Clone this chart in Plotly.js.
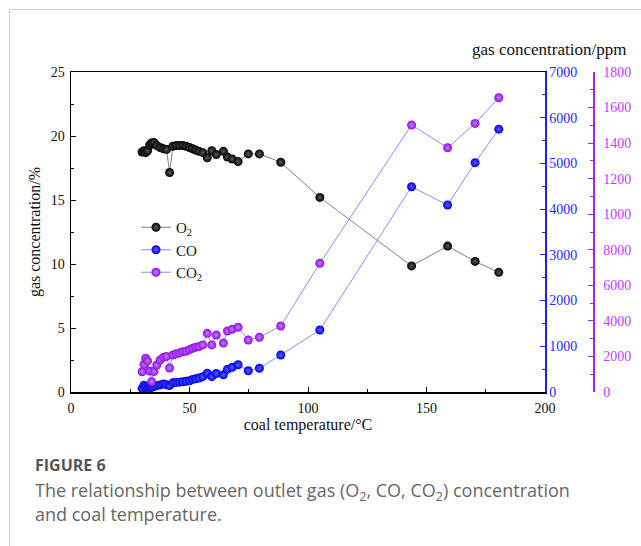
<!DOCTYPE html>
<html>
<head>
<meta charset="utf-8">
<script src="https://cdn.plot.ly/plotly-3.0.1.min.js"></script>
<style>
  html, body { margin: 0; padding: 0; background: #fff; }
  #chart { width: 641px; height: 546px; }
  /* tick numbers in the same serif face as the axis titles */
  #chart .xtick text, #chart .ytick text, #chart .y2tick text, #chart .y3tick text {
    font-family: 'Liberation Serif', 'Times New Roman', serif !important;
  }
</style>
</head>
<body>
<div id="chart"></div>
<script>
// Coal temperature (°C) at each sampling step
const temperature = [30.0, 30.8, 31.5, 32.3, 33.2, 34.0, 35.0, 36.2, 37.6, 39.0, 40.3, 41.6,
  43.0, 44.4, 45.8, 47.2, 48.6, 50.0, 51.3, 52.6, 54.0, 55.6, 57.5, 59.4, 61.3, 64.3,
  66.0, 68.0, 70.5, 74.8, 79.5, 88.5, 105.0, 143.7, 158.9, 170.5, 180.5];

// O2 concentration (%)
const o2 = [18.75, 18.85, 18.7, 18.85, 19.3, 19.45, 19.5, 19.25, 19.1, 19.0, 18.95, 17.15,
  19.2, 19.25, 19.25, 19.25, 19.2, 19.1, 19.0, 18.9, 18.8, 18.7, 18.3, 18.85, 18.55, 18.8,
  18.35, 18.2, 18.0, 18.6, 18.6, 17.95, 15.2, 9.85, 11.4, 10.2, 9.35];

// CO concentration (ppm)
const co = [80, 150, 100, 80, 90, 100, 120, 140, 155, 175, 160, 140,
  200, 210, 215, 225, 235, 245, 275, 290, 305, 335, 410, 335, 405, 375,
  495, 540, 595, 465, 520, 810, 1356, 4490, 4090, 5015, 5750];

// CO2 concentration (ppm)
const co2 = [1140, 1550, 1900, 1750, 1180, 580, 1150, 1520, 1800, 1950, 2000, 1350,
  2080, 2150, 2200, 2270, 2290, 2380, 2460, 2520, 2560, 2650, 3300, 2650, 3200, 2750,
  3430, 3530, 3640, 2925, 3080, 3712, 7240, 15020, 13740, 15110, 16550];

// Tick labels of the CO2 axis, as printed
const co2TickVals = [0, 2000, 4000, 6000, 8000, 10000, 12000, 14000, 16000, 18000];
const co2TickText = ['0', '2000', '4000', '6000', '8000', '1000', '1200', '1400', '1600', '1800'];

const SERIF = 'Liberation Serif';
const SANS = 'Open Sans';
const BLUE = '#1f1fff';
const PURPLE = '#a526ee';

function markerStyle(color, centre) {
  return { size: 9, color: color, gradient: { type: 'radial', color: centre },
           line: { width: 0 } };
}

const traces = [
  {
    x: temperature, y: o2, name: 'O<sub>2</sub>', type: 'scatter', mode: 'lines+markers',
    yaxis: 'y', line: { color: '#808080', width: 1 },
    marker: markerStyle('#000000', '#5a5a5a')
  },
  {
    x: temperature, y: co, name: 'CO', type: 'scatter', mode: 'lines+markers',
    yaxis: 'y2', line: { color: '#8c8cff', width: 1 },
    marker: markerStyle('#0000e6', '#5c5cff')
  },
  {
    x: temperature, y: co2, name: 'CO<sub>2</sub>', type: 'scatter', mode: 'lines+markers',
    yaxis: 'y3', line: { color: '#8c8cff', width: 1 },
    marker: markerStyle('#8f0fe0', '#c97bff')
  }
];

// Paper-coordinate helpers (plot area spans 71..631 px wide, 72..392 px tall)
const L = 71, T = 72, PW = 560, PH = 320;
const px = v => (v - L) / PW;
const py = v => (T + PH - v) / PH;

const tickFont = color => ({ family: SERIF, size: 14, color: color });

const layout = {
  width: 641, height: 546,
  margin: { l: L, r: 641 - L - PW, t: T, b: 546 - T - PH, pad: 0 },
  paper_bgcolor: '#fff', plot_bgcolor: '#fff',
  showlegend: true,
  legend: {
    x: px(136), y: py(211), xanchor: 'left', yanchor: 'top',
    bgcolor: 'rgba(0,0,0,0)', font: { family: SERIF, size: 15, color: '#111' },
    tracegroupgap: 0, itemwidth: 30
  },
  font: { family: SERIF, size: 14, color: '#111' },
  xaxis: {
    domain: [0, px(545)], range: [0, 200],
    tickvals: [0, 50, 100, 150, 200], ticks: 'inside', ticklen: 5, tickcolor: '#000',
    minor: { dtick: 25, ticks: 'inside', ticklen: 3, tickcolor: '#000' },
    showline: true, linecolor: '#000', linewidth: 1.5, mirror: true,
    showgrid: false, zeroline: false, ticklabelstandoff: 3,
    tickfont: tickFont('#111'),
    title: { text: 'coal temperature/°C', font: { family: SERIF, size: 16, color: '#111' }, standoff: 2 }
  },
  yaxis: {
    range: [0, 25], tickvals: [0, 5, 10, 15, 20, 25],
    ticks: 'inside', ticklen: 5, tickcolor: '#000',
    minor: { dtick: 2.5, ticks: 'inside', ticklen: 3, tickcolor: '#000' },
    showline: true, linecolor: '#000', linewidth: 1.5,
    showgrid: false, zeroline: false, ticklabelstandoff: 2,
    tickfont: tickFont('#111'),
    title: { text: 'gas concentration/%', font: { family: SERIF, size: 16, color: '#111' }, standoff: 6 }
  },
  yaxis2: {
    overlaying: 'y', side: 'right', anchor: 'x',
    range: [0, 7000], tickvals: [0, 1000, 2000, 3000, 4000, 5000, 6000, 7000],
    ticks: 'inside', ticklen: 5, tickcolor: BLUE,
    minor: { dtick: 500, ticks: 'inside', ticklen: 3, tickcolor: BLUE },
    showline: true, linecolor: BLUE, linewidth: 1.5,
    showgrid: false, zeroline: false,
    tickfont: tickFont(BLUE)
  },
  yaxis3: {
    overlaying: 'y', side: 'right', anchor: 'free', position: px(593),
    range: [0, 18000], tickvals: co2TickVals, ticktext: co2TickText,
    ticks: 'inside', ticklen: 5, tickcolor: PURPLE,
    minor: { dtick: 1000, ticks: 'inside', ticklen: 3, tickcolor: PURPLE },
    showline: true, linecolor: PURPLE, linewidth: 1.5,
    showgrid: false, zeroline: false, ticklabelstandoff: 6,
    tickfont: tickFont('#c13cff')
  },
  annotations: [
    { text: 'gas concentration/ppm', xref: 'paper', yref: 'paper', x: px(628), y: py(49),
      xanchor: 'right', yanchor: 'middle', showarrow: false,
      font: { family: SERIF, size: 17, color: '#111' } },
    { text: '<b>FIGURE 6</b>', xref: 'paper', yref: 'paper', x: px(33), y: py(465),
      xanchor: 'left', yanchor: 'middle', showarrow: false,
      font: { family: SANS, size: 16, color: '#555' } },
    { text: 'The relationship between outlet gas (O<sub>2</sub>, CO, CO<sub>2</sub>) concentration',
      xref: 'paper', yref: 'paper', x: px(33), y: py(491),
      xanchor: 'left', yanchor: 'middle', showarrow: false,
      font: { family: SANS, size: 18, color: '#666' } },
    { text: 'and coal temperature.', xref: 'paper', yref: 'paper', x: px(33), y: py(514),
      xanchor: 'left', yanchor: 'middle', showarrow: false,
      font: { family: SANS, size: 18, color: '#666' } }
  ],
  shapes: [
    { type: 'path', xref: 'paper', yref: 'paper',
      path: `M ${px(9.5)} ${py(546)} L ${px(9.5)} ${py(9.5)} L ${px(641)} ${py(9.5)}`,
      line: { color: '#cfcfcf', width: 1 } }
  ]
};

Plotly.newPlot('chart', traces, layout, { displayModeBar: false, staticPlot: true });
</script>
</body>
</html>
